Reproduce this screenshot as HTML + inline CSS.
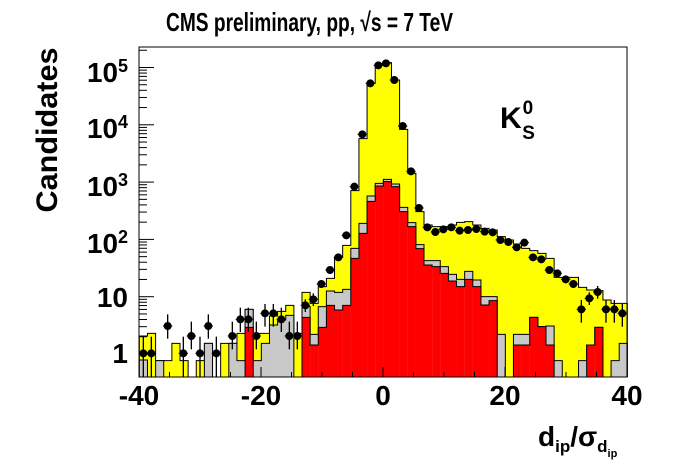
<!DOCTYPE html>
<html><head><meta charset="utf-8"><style>
body{margin:0;background:#fff}
svg{display:block}
text{font-family:"Liberation Sans",sans-serif;font-weight:bold;fill:#000}
</style></head><body>
<svg id="s" width="696" height="472" xmlns="http://www.w3.org/2000/svg">
<rect width="696" height="472" fill="#fff"/>
<g id="h" transform="translate(130,40) scale(0.333333)"></g>
<rect x="139" y="47" width="488" height="330" fill="none" stroke="#000" stroke-width="1"/>
<g id="ax" stroke="#000" stroke-width="1"></g>
<text x="166" y="31" font-size="26" textLength="287" lengthAdjust="spacingAndGlyphs">CMS preliminary, pp,  √s = 7 TeV</text>
<g font-size="28">
<text x="87" y="82" textLength="31" lengthAdjust="spacingAndGlyphs">10</text><text x="118" y="72" font-size="18">5</text>
<text x="87" y="138" textLength="31" lengthAdjust="spacingAndGlyphs">10</text><text x="118" y="128" font-size="18">4</text>
<text x="87" y="196" textLength="31" lengthAdjust="spacingAndGlyphs">10</text><text x="118" y="186" font-size="18">3</text>
<text x="87" y="253" textLength="31" lengthAdjust="spacingAndGlyphs">10</text><text x="118" y="243" font-size="18">2</text>
<text x="128" y="307" text-anchor="end">10</text>
<text x="128" y="363" text-anchor="end">1</text>
</g>
<text transform="translate(57,130) rotate(-90)" font-size="30" text-anchor="middle" textLength="165" lengthAdjust="spacingAndGlyphs">Candidates</text>
<g font-size="28" text-anchor="middle">
<text x="139" y="405">-40</text>
<text x="261" y="405">-20</text>
<text x="383" y="405">0</text>
<text x="505" y="405">20</text>
<text x="627" y="405">40</text>
</g>
<text x="538" y="446" font-size="28">d<tspan font-size="17" dy="6">ip</tspan><tspan dy="-6">/σ</tspan><tspan font-size="17" dy="6">d</tspan><tspan font-size="11" dy="5">ip</tspan></text>
<text x="500" y="128" font-size="30">K<tspan font-size="19" dx="1" dy="-14">0</tspan><tspan font-size="19" dx="-11" dy="25">S</tspan></text>
</svg>
<script>
var Y=[888,880,962,962,910,962,null,962,910,null,910,910,880,808,880,880,828,814,796,880,757,790,740,715,652,616,452,296,130,76,68,120,268,400,515,555,560,560,555,547,545,555,565,570,590,600,612,625,632,640,655,712,712,712,742,750,752,780,790,790];
var G=[960,null,962,null,null,null,null,null,910,null,null,910,962,808,962,910,855,840,826,null,800,883,800,753,757,748,625,550,468,430,418,432,502,548,614,662,662,680,703,718,694,720,770,770,883,null,883,883,832,860,858,962,null,null,962,915,862,null,962,910];
var R={13:862,20:832,21:915,22:862,23:796,24:810,25:796,26:655,27:580,28:484,29:438,30:425,31:440,32:515,33:560,34:626,35:675,36:680,37:700,38:723,39:740,40:718,41:740,42:795,43:782,46:915,47:915,48:832,49:860,50:915,55:915,56:862};
var B=1011,x0=28,w=24.4,h=document.getElementById('h'),s='';
function hist(arr,fill){var d='M'+x0+' '+B,rects='';for(var i=0;i<60;i++){var v=arr[i];var xa=x0+w*i,xb=xa+w;if(v==null||v==undefined)v=B;d+=' L'+xa+' '+v+' L'+xb+' '+v;if(v<B)rects+='<rect x="'+xa+'" y="'+v+'" width="'+(w+0.3)+'" height="'+(B-v)+'" fill="'+fill+'"/>';}d+=' L'+(x0+w*60)+' '+B;return rects+'<path d="'+d+'" fill="none" stroke="#000" stroke-width="3"/>';}
var Ra=[];for(var i=0;i<60;i++)Ra.push(R[i]);
s+=hist(Y,'#ffff00')+hist(G,'#c8c8c8')+hist(Ra,'#ff0000');
var P=[[40,940],[64,940],[113,858],[160,940],[184,888],[210,940],[235,858],[259,940],[307,888],[331,838],[355,838],[379,888],[405,820],[430,820],[454,838],[478,888],[502,888],[526,796],[550,778],[574,732],[600,690],[625,652],[649,586],[673,440],[697,283],[721,130],[745,76]];
var P2=[[18,70],[43,120],[68,258],[93,394],[117,504],[142,562],[166,576],[190,568],[214,562],[239,572],[264,570],[289,567],[314,575],[338,577],[361,600],[385,606],[410,622],[433,608],[459,652],[484,658],[508,690],[532,700],[557,718],[580,732],[604,808],[628,775],[653,756],[678,808],[703,808],[727,820]];
P2.forEach(function(p){P.push([p[0]+750,p[1]])});
P.forEach(function(p){var x=p[0],y=p[1],up=0,dn=0;if(y>920){up=50;dn=75}else if(y>870){up=43;dn=40}else if(y>830){up=35;dn=38}else if(y>800){up=28;dn=40}else if(y>740){up=18;dn=20}else if(y>680){up=10;dn=12}
if(up)s+='<line x1="'+x+'" y1="'+(y-up)+'" x2="'+x+'" y2="'+Math.min(B,y+dn)+'" stroke="#000" stroke-width="4"/>';
s+='<line x1="'+(x-14)+'" y1="'+y+'" x2="'+(x+14)+'" y2="'+y+'" stroke="#000" stroke-width="3"/><circle cx="'+x+'" cy="'+y+'" r="12" fill="#000"/>';});
h.innerHTML=s;
var a='';
for(var e=0;e<=5;e++){var y=354-57.3*e;if(y>47)a+='<line x1="139" y1="'+y+'" x2="154" y2="'+y+'"/>';for(var m=2;m<10;m++){var ym=y-57.3*Math.log10(m);if(ym>47&&ym<377)a+='<line x1="139" y1="'+ym+'" x2="147" y2="'+ym+'"/>';}}
for(var v=-40;v<=40;v+=5){var x=139+6.1*(v+40);var L=(v%20==0)?10:5;a+='<line x1="'+x+'" y1="377" x2="'+x+'" y2="'+(377-L)+'"/>';}
document.getElementById('ax').innerHTML=a;
</script>
</body></html>
